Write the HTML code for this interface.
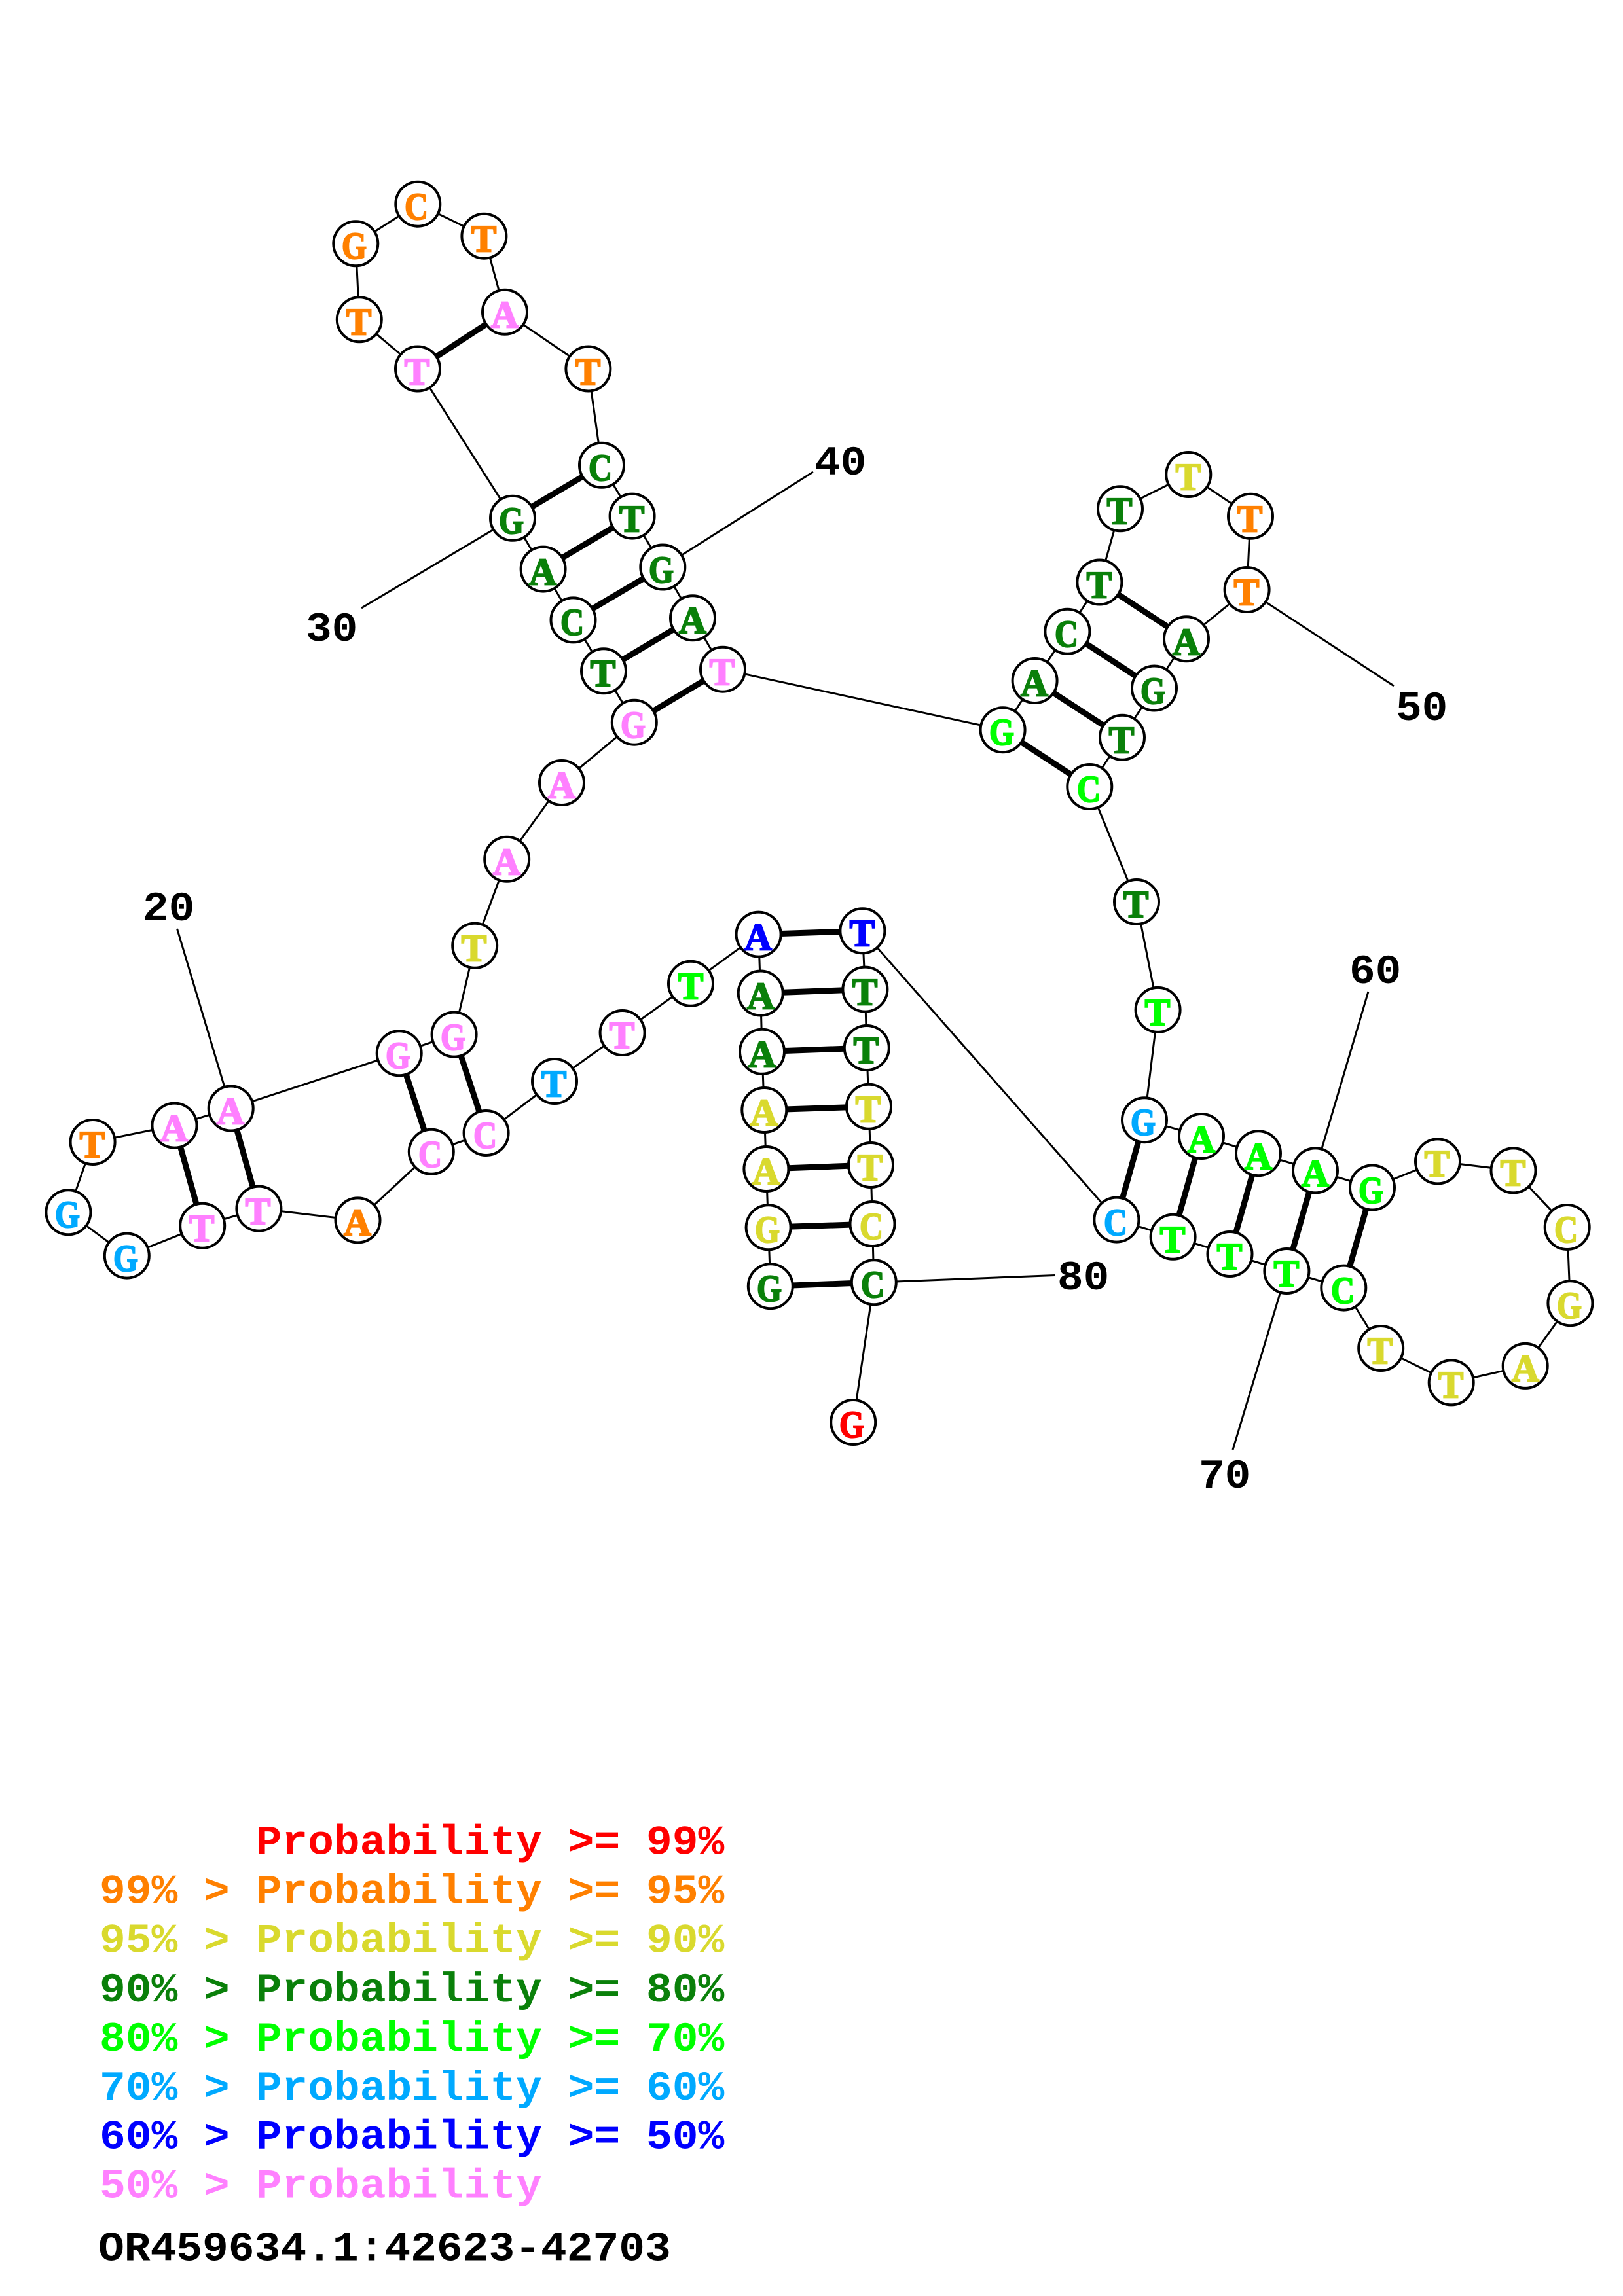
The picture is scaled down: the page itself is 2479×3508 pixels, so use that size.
<!DOCTYPE html>
<html><head><meta charset="utf-8"><style>
html,body{margin:0;padding:0;background:#fff}
svg{display:block}
.n{font-family:"Liberation Serif",serif;font-weight:bold;font-size:58px;text-anchor:middle;stroke-width:2.2}
.m{font-family:"Liberation Mono",monospace;font-weight:bold;font-size:63px;stroke-width:0;white-space:pre}
.c{fill:#fff;stroke:#000;stroke-width:4}
.o{fill:#ff8000;stroke:#ff8000}.y{fill:#d9d92e;stroke:#d9d92e}.d{fill:#0a800a;stroke:#0a800a}.l{fill:#00ff00;stroke:#00ff00}.s{fill:#00a9ff;stroke:#00a9ff}.b{fill:#0000ff;stroke:#0000ff}.p{fill:#ff80ff;stroke:#ff80ff}.r{fill:#ff0000;stroke:#ff0000}.k{fill:#000;stroke:#000}
</style></head><body>
<svg xmlns="http://www.w3.org/2000/svg" width="2479" height="3508" viewBox="0 0 2479 3508">
<rect width="2479" height="3508" fill="#fff"/>
<polyline fill="none" stroke="#000" stroke-width="3" points="1176.8,1965.2 1173.6,1875.3 1170.4,1786 1167.3,1696 1164,1606.8 1161.7,1517.5 1158.6,1427.6 1055,1502.8 950.6,1578 847,1652 742.6,1731 658.8,1759.8 546.5,1864.4 395.4,1846.6 309.2,1872.7 193.8,1918.6 104.4,1852.3 141.6,1745 266.5,1719.6 352.7,1693.5 609.7,1609.3 693.6,1580.6 725.2,1444.8 774.2,1312.8 858,1196 968.8,1103.7 922,1025.3 875.5,947.4 829.6,869.6 783,791.8 638,563.5 548.8,488.3 543.3,372.3 638.3,311.7 739.4,360.7 771,476.8 898.4,563.5 919,710.8 965.6,788.6 1012.3,866.5 1058,944.3 1104,1022.7 1531.6,1115.3 1580.6,1040 1630.4,964.8 1679.4,889.5 1711,777.3 1815.3,725 1910,788.8 1904.6,901 1812,976.3 1763,1051.5 1714,1126.8 1664.3,1202 1736,1378 1768.6,1542.9 1748,1711.2 1835,1736 1922,1762.2 2009,1788.4 2096,1814.5 2196,1774.4 2311.5,1788.4 2393.7,1875 2398.4,1991.2 2329.7,2086.9 2216.7,2112.4 2109.2,2060 2052.3,1967.6 1965.4,1942 1878.5,1916 1791.6,1889.8 1705.4,1863.6 1317.4,1422.3 1321.4,1511.6 1323.8,1601 1327,1690.8 1330,1780 1332.5,1870 1334.8,1959.3 1303.2,2173"/>
<g fill="none" stroke="#000" stroke-width="3">
<line x1="352.7" y1="1693.5" x2="270.5" y2="1419"/>
<line x1="783" y1="791.8" x2="552" y2="929"/>
<line x1="1012.3" y1="866.5" x2="1242" y2="721"/>
<line x1="1904.6" y1="901" x2="2129" y2="1048"/>
<line x1="2009" y1="1788.4" x2="2090" y2="1515"/>
<line x1="1965.4" y1="1942" x2="1883" y2="2215"/>
<line x1="1334.8" y1="1959.3" x2="1611.4" y2="1948.5"/>
</g>
<g fill="none" stroke="#000" stroke-width="9">
<line x1="1176.8" y1="1965.2" x2="1334.8" y2="1959.3"/>
<line x1="1173.6" y1="1875.3" x2="1332.5" y2="1870"/>
<line x1="1170.4" y1="1786" x2="1330" y2="1780"/>
<line x1="1167.3" y1="1696" x2="1327" y2="1690.8"/>
<line x1="1164" y1="1606.8" x2="1323.8" y2="1601"/>
<line x1="1161.7" y1="1517.5" x2="1321.4" y2="1511.6"/>
<line x1="1158.6" y1="1427.6" x2="1317.4" y2="1422.3"/>
<line x1="742.6" y1="1731" x2="693.6" y2="1580.6"/>
<line x1="658.8" y1="1759.8" x2="609.7" y2="1609.3"/>
<line x1="395.4" y1="1846.6" x2="352.7" y2="1693.5"/>
<line x1="309.2" y1="1872.7" x2="266.5" y2="1719.6"/>
<line x1="968.8" y1="1103.7" x2="1104" y2="1022.7"/>
<line x1="922" y1="1025.3" x2="1058" y2="944.3"/>
<line x1="875.5" y1="947.4" x2="1012.3" y2="866.5"/>
<line x1="829.6" y1="869.6" x2="965.6" y2="788.6"/>
<line x1="783" y1="791.8" x2="919" y2="710.8"/>
<line x1="638" y1="563.5" x2="771" y2="476.8"/>
<line x1="1531.6" y1="1115.3" x2="1664.3" y2="1202"/>
<line x1="1580.6" y1="1040" x2="1714" y2="1126.8"/>
<line x1="1630.4" y1="964.8" x2="1763" y2="1051.5"/>
<line x1="1679.4" y1="889.5" x2="1812" y2="976.3"/>
<line x1="1748" y1="1711.2" x2="1705.4" y2="1863.6"/>
<line x1="1835" y1="1736" x2="1791.6" y2="1889.8"/>
<line x1="1922" y1="1762.2" x2="1878.5" y2="1916"/>
<line x1="2009" y1="1788.4" x2="1965.4" y2="1942"/>
<line x1="2096" y1="1814.5" x2="2052.3" y2="1967.6"/>
</g>
<g>
<circle class="c" cx="1176.8" cy="1965.2" r="34"/><circle class="c" cx="1173.6" cy="1875.3" r="34"/><circle class="c" cx="1170.4" cy="1786" r="34"/><circle class="c" cx="1167.3" cy="1696" r="34"/><circle class="c" cx="1164" cy="1606.8" r="34"/><circle class="c" cx="1161.7" cy="1517.5" r="34"/><circle class="c" cx="1158.6" cy="1427.6" r="34"/><circle class="c" cx="1055" cy="1502.8" r="34"/><circle class="c" cx="950.6" cy="1578" r="34"/><circle class="c" cx="847" cy="1652" r="34"/><circle class="c" cx="742.6" cy="1731" r="34"/><circle class="c" cx="658.8" cy="1759.8" r="34"/><circle class="c" cx="546.5" cy="1864.4" r="34"/><circle class="c" cx="395.4" cy="1846.6" r="34"/><circle class="c" cx="309.2" cy="1872.7" r="34"/><circle class="c" cx="193.8" cy="1918.6" r="34"/><circle class="c" cx="104.4" cy="1852.3" r="34"/><circle class="c" cx="141.6" cy="1745" r="34"/><circle class="c" cx="266.5" cy="1719.6" r="34"/><circle class="c" cx="352.7" cy="1693.5" r="34"/><circle class="c" cx="609.7" cy="1609.3" r="34"/><circle class="c" cx="693.6" cy="1580.6" r="34"/><circle class="c" cx="725.2" cy="1444.8" r="34"/><circle class="c" cx="774.2" cy="1312.8" r="34"/><circle class="c" cx="858" cy="1196" r="34"/><circle class="c" cx="968.8" cy="1103.7" r="34"/><circle class="c" cx="922" cy="1025.3" r="34"/><circle class="c" cx="875.5" cy="947.4" r="34"/><circle class="c" cx="829.6" cy="869.6" r="34"/><circle class="c" cx="783" cy="791.8" r="34"/><circle class="c" cx="638" cy="563.5" r="34"/><circle class="c" cx="548.8" cy="488.3" r="34"/><circle class="c" cx="543.3" cy="372.3" r="34"/><circle class="c" cx="638.3" cy="311.7" r="34"/><circle class="c" cx="739.4" cy="360.7" r="34"/><circle class="c" cx="771" cy="476.8" r="34"/><circle class="c" cx="898.4" cy="563.5" r="34"/><circle class="c" cx="919" cy="710.8" r="34"/><circle class="c" cx="965.6" cy="788.6" r="34"/><circle class="c" cx="1012.3" cy="866.5" r="34"/><circle class="c" cx="1058" cy="944.3" r="34"/><circle class="c" cx="1104" cy="1022.7" r="34"/><circle class="c" cx="1531.6" cy="1115.3" r="34"/><circle class="c" cx="1580.6" cy="1040" r="34"/><circle class="c" cx="1630.4" cy="964.8" r="34"/><circle class="c" cx="1679.4" cy="889.5" r="34"/><circle class="c" cx="1711" cy="777.3" r="34"/><circle class="c" cx="1815.3" cy="725" r="34"/><circle class="c" cx="1910" cy="788.8" r="34"/><circle class="c" cx="1904.6" cy="901" r="34"/><circle class="c" cx="1812" cy="976.3" r="34"/><circle class="c" cx="1763" cy="1051.5" r="34"/><circle class="c" cx="1714" cy="1126.8" r="34"/><circle class="c" cx="1664.3" cy="1202" r="34"/><circle class="c" cx="1736" cy="1378" r="34"/><circle class="c" cx="1768.6" cy="1542.9" r="34"/><circle class="c" cx="1748" cy="1711.2" r="34"/><circle class="c" cx="1835" cy="1736" r="34"/><circle class="c" cx="1922" cy="1762.2" r="34"/><circle class="c" cx="2009" cy="1788.4" r="34"/><circle class="c" cx="2096" cy="1814.5" r="34"/><circle class="c" cx="2196" cy="1774.4" r="34"/><circle class="c" cx="2311.5" cy="1788.4" r="34"/><circle class="c" cx="2393.7" cy="1875" r="34"/><circle class="c" cx="2398.4" cy="1991.2" r="34"/><circle class="c" cx="2329.7" cy="2086.9" r="34"/><circle class="c" cx="2216.7" cy="2112.4" r="34"/><circle class="c" cx="2109.2" cy="2060" r="34"/><circle class="c" cx="2052.3" cy="1967.6" r="34"/><circle class="c" cx="1965.4" cy="1942" r="34"/><circle class="c" cx="1878.5" cy="1916" r="34"/><circle class="c" cx="1791.6" cy="1889.8" r="34"/><circle class="c" cx="1705.4" cy="1863.6" r="34"/><circle class="c" cx="1317.4" cy="1422.3" r="34"/><circle class="c" cx="1321.4" cy="1511.6" r="34"/><circle class="c" cx="1323.8" cy="1601" r="34"/><circle class="c" cx="1327" cy="1690.8" r="34"/><circle class="c" cx="1330" cy="1780" r="34"/><circle class="c" cx="1332.5" cy="1870" r="34"/><circle class="c" cx="1334.8" cy="1959.3" r="34"/><circle class="c" cx="1303.2" cy="2173" r="34"/>
</g>
<g>
<text class="n d" x="1175" y="1988" textLength="38" lengthAdjust="spacingAndGlyphs">G</text><text class="n y" x="1172" y="1898" textLength="38" lengthAdjust="spacingAndGlyphs">G</text><text class="n y" x="1170" y="1809">A</text><text class="n y" x="1167" y="1719">A</text><text class="n d" x="1164" y="1630">A</text><text class="n d" x="1162" y="1541">A</text><text class="n b" x="1158" y="1451">A</text><text class="n l" x="1055" y="1526">T</text><text class="n p" x="950" y="1601">T</text><text class="n s" x="846" y="1675">T</text><text class="n p" x="741" y="1754" textLength="36" lengthAdjust="spacingAndGlyphs">C</text><text class="n p" x="657" y="1783" textLength="36" lengthAdjust="spacingAndGlyphs">C</text><text class="n o" x="546" y="1887">A</text><text class="n p" x="394" y="1870">T</text><text class="n p" x="308" y="1896">T</text><text class="n s" x="192" y="1942" textLength="38" lengthAdjust="spacingAndGlyphs">G</text><text class="n s" x="103" y="1875" textLength="38" lengthAdjust="spacingAndGlyphs">G</text><text class="n o" x="141" y="1768">T</text><text class="n p" x="266" y="1743">A</text><text class="n p" x="352" y="1717">A</text><text class="n p" x="608" y="1632" textLength="38" lengthAdjust="spacingAndGlyphs">G</text><text class="n p" x="692" y="1604" textLength="38" lengthAdjust="spacingAndGlyphs">G</text><text class="n y" x="724" y="1468">T</text><text class="n p" x="774" y="1336">A</text><text class="n p" x="858" y="1219">A</text><text class="n p" x="967" y="1127" textLength="38" lengthAdjust="spacingAndGlyphs">G</text><text class="n d" x="921" y="1048">T</text><text class="n d" x="874" y="970" textLength="36" lengthAdjust="spacingAndGlyphs">C</text><text class="n d" x="829" y="893">A</text><text class="n d" x="781" y="815" textLength="38" lengthAdjust="spacingAndGlyphs">G</text><text class="n p" x="637" y="587">T</text><text class="n o" x="548" y="511">T</text><text class="n o" x="541" y="395" textLength="38" lengthAdjust="spacingAndGlyphs">G</text><text class="n o" x="636" y="335" textLength="36" lengthAdjust="spacingAndGlyphs">C</text><text class="n o" x="739" y="384">T</text><text class="n p" x="771" y="500">A</text><text class="n o" x="898" y="587">T</text><text class="n d" x="917" y="734" textLength="36" lengthAdjust="spacingAndGlyphs">C</text><text class="n d" x="965" y="812">T</text><text class="n d" x="1010" y="890" textLength="38" lengthAdjust="spacingAndGlyphs">G</text><text class="n d" x="1058" y="967">A</text><text class="n p" x="1103" y="1046">T</text><text class="n l" x="1530" y="1138" textLength="38" lengthAdjust="spacingAndGlyphs">G</text><text class="n d" x="1580" y="1063">A</text><text class="n d" x="1629" y="988" textLength="36" lengthAdjust="spacingAndGlyphs">C</text><text class="n d" x="1679" y="913">T</text><text class="n d" x="1710" y="800">T</text><text class="n y" x="1815" y="748">T</text><text class="n o" x="1909" y="812">T</text><text class="n o" x="1904" y="924">T</text><text class="n d" x="1812" y="1000">A</text><text class="n d" x="1761" y="1075" textLength="38" lengthAdjust="spacingAndGlyphs">G</text><text class="n d" x="1713" y="1150">T</text><text class="n l" x="1663" y="1225" textLength="36" lengthAdjust="spacingAndGlyphs">C</text><text class="n d" x="1735" y="1401">T</text><text class="n l" x="1768" y="1566">T</text><text class="n s" x="1746" y="1734" textLength="38" lengthAdjust="spacingAndGlyphs">G</text><text class="n l" x="1835" y="1760">A</text><text class="n l" x="1922" y="1786">A</text><text class="n l" x="2009" y="1812">A</text><text class="n l" x="2094" y="1838" textLength="38" lengthAdjust="spacingAndGlyphs">G</text><text class="n y" x="2195" y="1797">T</text><text class="n y" x="2311" y="1811">T</text><text class="n y" x="2392" y="1898" textLength="36" lengthAdjust="spacingAndGlyphs">C</text><text class="n y" x="2397" y="2014" textLength="38" lengthAdjust="spacingAndGlyphs">G</text><text class="n y" x="2330" y="2110">A</text><text class="n y" x="2216" y="2135">T</text><text class="n y" x="2108" y="2083">T</text><text class="n l" x="2051" y="1991" textLength="36" lengthAdjust="spacingAndGlyphs">C</text><text class="n l" x="1965" y="1965">T</text><text class="n l" x="1878" y="1939">T</text><text class="n l" x="1791" y="1913">T</text><text class="n s" x="1704" y="1887" textLength="36" lengthAdjust="spacingAndGlyphs">C</text><text class="n b" x="1317" y="1445">T</text><text class="n d" x="1321" y="1535">T</text><text class="n d" x="1323" y="1624">T</text><text class="n y" x="1326" y="1714">T</text><text class="n y" x="1329" y="1803">T</text><text class="n y" x="1331" y="1893" textLength="36" lengthAdjust="spacingAndGlyphs">C</text><text class="n d" x="1333" y="1982" textLength="36" lengthAdjust="spacingAndGlyphs">C</text><text class="n r" x="1301" y="2196" textLength="38" lengthAdjust="spacingAndGlyphs">G</text>
</g>
<g>
<text class="m k" transform="translate(218,1406) scale(1.05,1)">20</text>
<text class="m k" transform="translate(467,979) scale(1.05,1)">30</text>
<text class="m k" transform="translate(1244,725) scale(1.05,1)">40</text>
<text class="m k" transform="translate(2132,1100) scale(1.05,1)">50</text>
<text class="m k" transform="translate(2061,1502) scale(1.05,1)">60</text>
<text class="m k" transform="translate(1831,2273) scale(1.05,1)">70</text>
<text class="m k" transform="translate(1615,1970) scale(1.05,1)">80</text>
</g>
<g>
<text class="m r" transform="translate(152,2832.6) scale(1.052,1)">      Probability &gt;= 99%</text>
<text class="m o" transform="translate(152,2907.5) scale(1.052,1)">99% &gt; Probability &gt;= 95%</text>
<text class="m y" transform="translate(152,2982.5) scale(1.052,1)">95% &gt; Probability &gt;= 90%</text>
<text class="m d" transform="translate(152,3058) scale(1.052,1)">90% &gt; Probability &gt;= 80%</text>
<text class="m l" transform="translate(152,3133) scale(1.052,1)">80% &gt; Probability &gt;= 70%</text>
<text class="m s" transform="translate(152,3208) scale(1.052,1)">70% &gt; Probability &gt;= 60%</text>
<text class="m b" transform="translate(152,3282.7) scale(1.052,1)">60% &gt; Probability &gt;= 50%</text>
<text class="m p" transform="translate(152,3357.6) scale(1.052,1)">50% &gt; Probability</text>
<text class="m k" transform="translate(150,3453.6) scale(1.052,1)">OR459634.1:42623-42703</text>
</g>
</svg>
</body></html>
